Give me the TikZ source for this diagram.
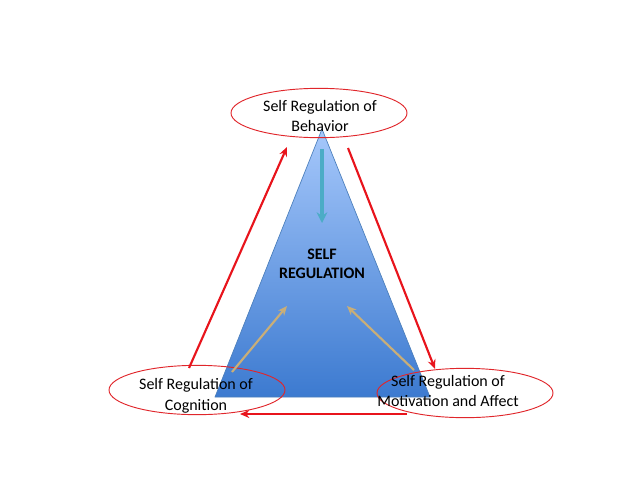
\documentclass[tikz,border=0pt]{standalone}
\usepackage{fontspec}
\setmainfont{Carlito}
\usetikzlibrary{shapes.geometric,arrows.meta}
\definecolor{ovalred}{HTML}{E0262B}
\definecolor{arrred}{HTML}{E8141C}
\definecolor{pyrtop}{HTML}{A6C8FB}
\definecolor{pyrbot}{HTML}{3C7AD0}
\definecolor{pyredge}{HTML}{4A7EBB}
\definecolor{tealarr}{HTML}{4BACC6}
\definecolor{tanarr}{HTML}{C9AE78}
\tikzset{
  oval/.style={ellipse, draw=ovalred, line width=0.7pt, minimum width=132pt, minimum height=37pt, inner sep=0pt},
  lbl/.style={align=center, font=\fontsize{12}{15.5}\selectfont, inner sep=0pt},
  redarr/.style={draw=arrred, line width=1.6pt, -{Stealth[length=7pt,width=6pt]}},
  tanarr/.style={draw=tanarr, line width=1.6pt, -{Stealth[length=7pt,width=6pt]}},
}
\begin{document}
\begin{tikzpicture}[x=0.75pt,y=-0.75pt]
      \useasboundingbox (0,0) rectangle (638,479);
      % pyramid
      \shade[top color=pyrtop, bottom color=pyrbot] (322,129) -- (430,397) -- (215,397) -- cycle;
      \draw[pyredge, line width=0.5pt] (322,129) -- (430,397) -- (215,397) -- cycle;
      \node[lbl, font=\fontsize{12}{14.2}\bfseries] (core) at (322,264) {SELF\\REGULATION};
      % ovals
      \node[oval] (beh) at (319,113) {};
      \node[oval] (cog) at (197,390) {};
      \node[oval] (mot) at (465,393) {};
      \node[lbl] (behtxt) at (320,116) {Self Regulation of\\Behavior};
      \node[lbl] (cogtxt) at (196,396) {Self Regulation of\\Cognition};
      \node[lbl] (mottxt) at (448,391) {Self Regulation of\\Motivation and Affect};
      % arrow ends
      \coordinate (t1) at (322,149);
      \coordinate (t2) at (322,223);
      \coordinate (l1) at (189,368);
      \coordinate (l2) at (287,147);
      \coordinate (r1) at (348,148);
      \coordinate (r2) at (435,369);
      \coordinate (b1) at (407,414);
      \coordinate (b2) at (240,414);
      \coordinate (c1) at (232,372);
      \coordinate (c2) at (287,306);
      \coordinate (m1) at (414,370);
      \coordinate (m2) at (347,306);
      \draw[draw=tealarr, line width=2.4pt, -{Stealth[length=8pt,width=8pt]}] (t1) -- (t2);
      \draw[redarr] (l1) -- (l2);
      \draw[redarr] (r1) -- (r2);
      \draw[redarr] (b1) -- (b2);
      \draw[tanarr] (c1) -- (c2);
      \draw[tanarr] (m1) -- (m2);
    \end{tikzpicture}
\end{document}
